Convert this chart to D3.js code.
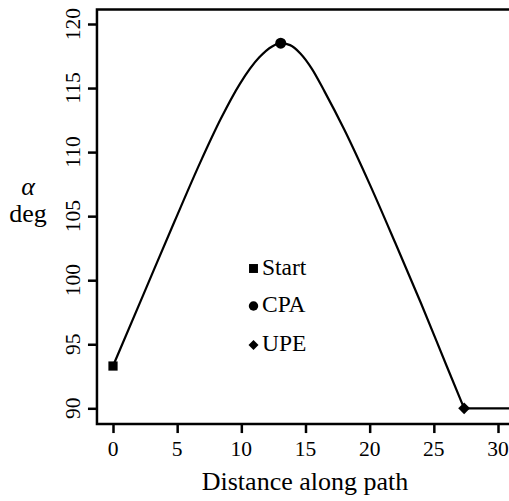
<!DOCTYPE html>
<html>
<head>
<meta charset="utf-8">
<script src="https://cdn.jsdelivr.net/npm/d3@7"></script>
<style>
  body { margin: 0; background: #fff; }
  svg text { font-family: "Liberation Serif", "Times New Roman", serif !important; }
</style>
</head>
<body>
<div id="chart"></div>
<script>
// curve: distance along path vs alpha (deg)
var dist  = [0, 2.4, 4.8, 6.8, 8.4, 9.9, 11.4, 12.4, 13.07, 13.8, 14.6, 15.5, 16.5, 18, 20, 22, 24, 26, 27.36]
var alpha = [93.3, 98.95, 104.6, 109.2, 112.6, 115.35, 117.4, 118.25, 118.5, 118.35, 117.7, 116.5, 114.7, 111.8, 107.5, 102.9, 98.2, 93.3, 90.0]
var flatEnd = 33

var markNames = ["Start", "CPA", "UPE"]
var markDist  = [0, 13.07, 27.36]
var markAlpha = [93.3, 118.5, 90.0]

var xTicks = [0, 5, 10, 15, 20, 25, 30]
var yTicks = [90, 95, 100, 105, 110, 115, 120]

var W = 509, H = 501
var FONT = '"Liberation Serif", "Times New Roman", serif'

var svg = d3.select('#chart')
  .append('svg')
  .attr('width', W)
  .attr('height', H)
  .style('font-family', FONT)

var x = d3.scaleLinear().domain([0, 30]).range([113, 498])
var y = d3.scaleLinear().domain([90, 120]).range([408.3, 24])

// plot box (right edge runs off the window)
var boxL = x(-1.25), boxT = y(121.13), boxB = y(88.77), boxR = x(33)
svg.append('path')
  .attr('d', 'M' + boxR + ',' + boxT + 'H' + boxL + 'V' + boxB + 'H' + boxR)
  .attr('fill', 'none')
  .attr('stroke', '#000')
  .attr('stroke-width', 2.5)

// axes: ticks from d3, labels placed from the same scales
var gx = svg.append('g')
  .attr('transform', 'translate(0,' + boxB + ')')
  .call(d3.axisBottom(x).tickValues(xTicks).tickSize(9).tickSizeOuter(0).tickFormat(''))
gx.select('.domain').remove()
gx.selectAll('.tick line').attr('stroke-width', 2.5)

var gy = svg.append('g')
  .attr('transform', 'translate(' + boxL + ',0)')
  .call(d3.axisLeft(y).tickValues(yTicks).tickSize(9).tickSizeOuter(0).tickFormat(''))
gy.select('.domain').remove()
gy.selectAll('.tick line').attr('stroke-width', 2.5)

svg.append('g').selectAll('text')
  .data(xTicks)
  .join('text')
  .attr('x', function(d) { return x(d) })
  .attr('y', 456)
  .style('text-anchor', 'middle')
  .style('font-family', FONT)
  .style('font-size', '21.5px')
  .text(function(d) { return d })

// rotated y labels: put each in its own group so the text itself has no transform
svg.append('g').selectAll('g')
  .data(yTicks)
  .join('g')
  .attr('transform', function(d) { return 'translate(80,' + y(d) + ') rotate(-90)' })
  .append('text')
  .style('text-anchor', 'middle')
  .style('font-family', FONT)
  .style('font-size', '21.5px')
  .text(function(d) { return d })

// axis titles
svg.append('text')
  .attr('x', 305)
  .attr('y', 490)
  .style('text-anchor', 'middle')
  .style('font-family', FONT)
  .style('font-size', '26px')
  .text('Distance along path')

svg.append('text')
  .attr('x', 28)
  .attr('y', 195)
  .style('text-anchor', 'middle')
  .style('font-family', FONT)
  .style('font-size', '26px')
  .style('font-style', 'italic')
  .text('α')
svg.append('text')
  .attr('x', 28)
  .attr('y', 222)
  .style('text-anchor', 'middle')
  .style('font-family', FONT)
  .style('font-size', '26px')
  .text('deg')

// the curve up to UPE, then flat
var pts = dist.map(function(d, i) { return [d, alpha[i]] })
var line = d3.line()
  .x(function(d) { return x(d[0]) })
  .y(function(d) { return y(d[1]) })

svg.append('path')
  .attr('d', line.curve(d3.curveMonotoneX)(pts))
  .attr('fill', 'none')
  .attr('stroke', '#000')
  .attr('stroke-width', 2.2)

var last = pts[pts.length - 1]
svg.append('path')
  .attr('d', line.curve(d3.curveLinear)([last, [flatEnd, last[1]]]))
  .attr('fill', 'none')
  .attr('stroke', '#000')
  .attr('stroke-width', 2.2)

// markers (diamond = square turned 45 degrees)
var shapes = [d3.symbolSquare, d3.symbolCircle, d3.symbolSquare]
var turn = [0, 0, 45]
var sizes = [85, 95, 70]
var legSizes = [80, 70, 50]

markNames.forEach(function(n, i) {
  svg.append('path')
    .attr('d', d3.symbol().type(shapes[i]).size(sizes[i])())
    .attr('transform', 'translate(' + x(markDist[i]) + ',' + y(markAlpha[i]) + ') rotate(' + turn[i] + ')')
    .attr('fill', '#000')
})

// legend
var legY = [268.5, 306, 345]
markNames.forEach(function(n, i) {
  svg.append('path')
    .attr('d', d3.symbol().type(shapes[i]).size(legSizes[i])())
    .attr('transform', 'translate(253.5,' + legY[i] + ') rotate(' + turn[i] + ')')
    .attr('fill', '#000')
  svg.append('text')
    .attr('x', 262)
    .attr('y', legY[i] + 6)
    .style('font-family', FONT)
    .style('font-size', '23.5px')
    .text(n)
})
</script>
</body>
</html>
